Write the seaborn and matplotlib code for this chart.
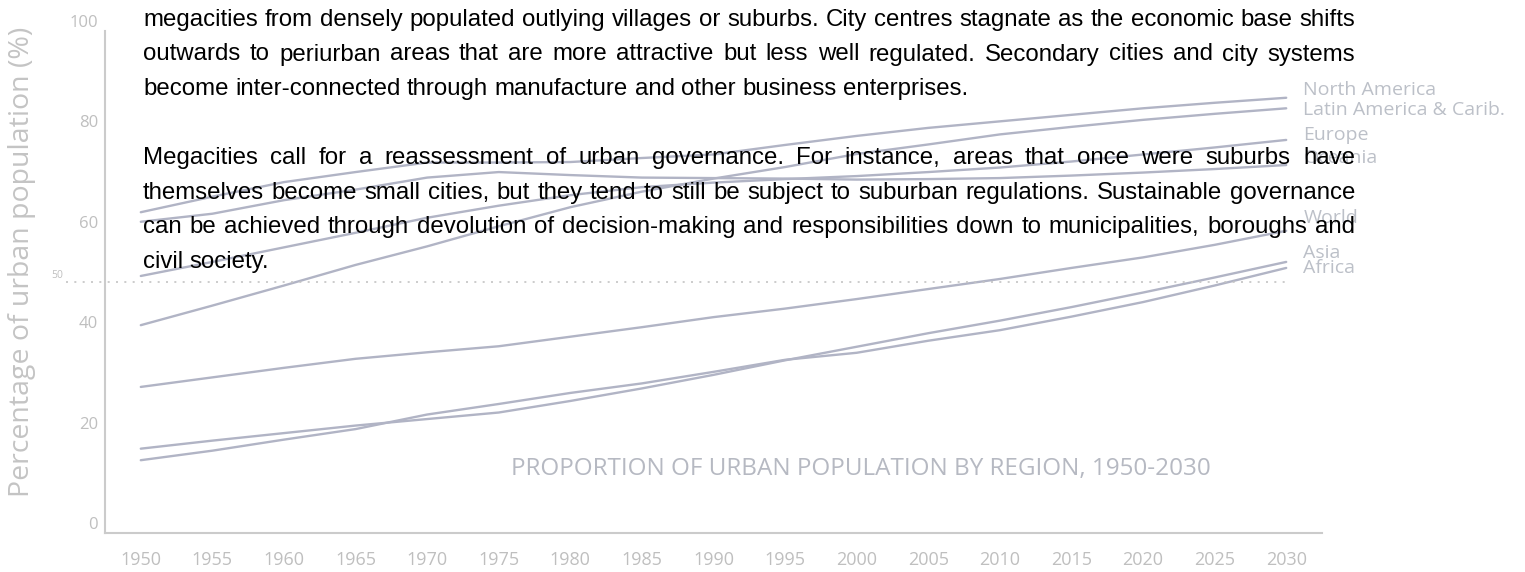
import matplotlib
matplotlib.use('Agg')
import matplotlib.pyplot as plt
import numpy as np
import pandas as pd
import seaborn as sns

# Urban population share by region (%), 1950-2030
years = list(range(1950, 2031, 5))
north_america = [63.9, 67.0, 69.9, 71.9, 73.8, 73.8, 73.9, 74.7, 75.4, 77.3, 79.1, 80.7, 82.0, 83.3, 84.6, 85.7, 86.7]
latin_america = [41.4, 45.3, 49.3, 53.4, 57.1, 61.1, 64.9, 68.0, 70.6, 72.9, 75.5, 77.4, 79.4, 80.9, 82.3, 83.5, 84.6]
europe        = [51.2, 54.0, 56.9, 59.8, 62.8, 65.2, 67.3, 68.9, 69.8, 70.5, 71.1, 71.9, 72.8, 74.0, 75.4, 76.8, 78.3]
oceania       = [62.0, 63.6, 66.3, 68.4, 70.8, 71.9, 71.3, 70.8, 70.7, 70.6, 70.4, 70.5, 70.7, 71.2, 71.8, 72.5, 73.3]
world         = [29.1, 31.0, 32.9, 34.7, 36.0, 37.2, 39.1, 41.0, 43.0, 44.7, 46.6, 48.6, 50.6, 52.8, 54.9, 57.4, 60.2]
asia          = [16.8, 18.4, 19.9, 21.4, 22.7, 24.0, 26.3, 28.8, 31.5, 34.4, 37.1, 39.8, 42.3, 45.0, 47.9, 50.9, 54.0]
africa        = [14.5, 16.4, 18.6, 20.7, 23.6, 25.7, 27.9, 29.8, 32.1, 34.5, 35.9, 38.3, 40.4, 43.1, 46.0, 49.3, 52.8]

regions = ['North America', 'Latin America & Carib.', 'Europe', 'Oceania', 'World', 'Asia', 'Africa']
series = [north_america, latin_america, europe, oceania, world, asia, africa]
label_y = [88.2, 84.3, 79.3, 74.7, 62.7, 55.8, 52.8]

y_ticks = [0, 20, 40, 60, 80, 100]
x_labels = years
halfway = 50

title = 'PROPORTION OF URBAN POPULATION BY REGION, 1950-2030'
y_title = 'Percentage of urban population (%)'
para_lines = [
    ('megacities from densely populated outlying villages or suburbs. City centres stagnate as the economic base shifts', True),
    ('outwards to periurban areas that are more attractive but less well regulated. Secondary cities and city systems', True),
    ('become inter-connected through manufacture and other business enterprises.', False),
    ('Megacities call for a reassessment of urban governance. For instance, areas that once were suburbs have', True),
    ('themselves become small cities, but they tend to still be subject to suburban regulations. Sustainable governance', True),
    ('can be achieved through devolution of decision-making and responsibilities down to municipalities, boroughs and', True),
    ('civil society.', False),
]

LINE = '#b1b4c5'
AXIS = '#cbcbcb'
TICK_TXT = '#bfbfbf'
LABEL_TXT = '#bcc0c8'

df = pd.DataFrame({
    'year': years * len(regions),
    'pct': [v for s in series for v in s],
    'region': [r for r in regions for _ in years],
})

sns.set_style('white')
plt.rcParams['font.family'] = ['Open Sans', 'DejaVu Sans']

W, H = 1525, 572
fig = plt.figure(figsize=(W / 100, H / 100), dpi=100)
ax = fig.add_axes([105 / W, (H - 533) / H, (1322 - 105) / W, (533 - 31) / H])

sns.lineplot(data=df, x='year', y='pct', units='region', estimator=None,
             color=LINE, lw=1.7, ax=ax, legend=False)

# dotted 50% reference line, running out past the y axis
ax.plot([1944.8, 2030], [halfway, halfway], color='#c4c4c4', lw=1.2,
        dashes=(1.2, 3.8), clip_on=False)
fig.text(57 / W, 1 - 276 / H, str(halfway), fontsize=7.5, color=TICK_TXT,
         ha='center', va='center')

ax.set_xlim(1947.5, 2032.5)
ax.set_ylim(0, 100)
for s in ['top', 'right']:
    ax.spines[s].set_visible(False)
for s in ['left', 'bottom']:
    ax.spines[s].set_color(AXIS)
    ax.spines[s].set_linewidth(1.5)

ax.set_yticks(y_ticks)
ax.set_yticklabels([str(t) for t in y_ticks])
ax.tick_params(axis='y', direction='in', length=21, width=1.1, color=AXIS,
               labelsize=12, labelcolor=TICK_TXT, pad=5)
for lab in ax.get_yticklabels():
    lab.set_va('bottom')

# year labels sit between the small tick marks
ax.set_xticks(x_labels)
ax.set_xticklabels([str(y) for y in x_labels])
ax.set_xticks([y + 2.5 for y in x_labels], minor=True)
ax.tick_params(axis='x', which='major', length=0, labelsize=13,
               labelcolor=TICK_TXT, pad=13)
ax.tick_params(axis='x', which='minor', direction='in', length=8, width=1.1,
               color=AXIS)

ax.set_xlabel('')
ax.set_ylabel(y_title, fontsize=20.5, color='#c4c4c4', va='center')
ax.yaxis.set_label_coords(-0.068, 0.54)

for name, yv in zip(regions, label_y):
    ax.text(2031.2, yv, name, fontsize=14, color=LABEL_TXT,
            va='center', ha='left', clip_on=False)

fig.text(861 / W, 1 - 469 / H, title, fontsize=17.5, color='#b6b9c2',
         ha='center', va='center')

# paragraph text over the chart, justified word by word
renderer = fig.canvas.get_renderer()
txt_kw = dict(fontsize=17.3, color='black', family=['Liberation Sans', 'DejaVu Sans'],
              va='baseline', ha='left')
p1 = fig.text(0, 0, 'a a', **txt_kw)
p2 = fig.text(0, 0, 'aa', **txt_kw)
space_w = p1.get_window_extent(renderer).width - p2.get_window_extent(renderer).width
p1.remove()
p2.remove()

baselines = [26, 60.5, 95, 164, 198.5, 233, 267.5]
x_left, x_right = 143, 1355
for (line, justify), base in zip(para_lines, baselines):
    words = line.split()
    objs = [fig.text(0, 0, w, **txt_kw) for w in words]
    widths = [o.get_window_extent(renderer).width for o in objs]
    gap = space_w
    if justify:
        gap = (x_right - x_left - sum(widths)) / (len(words) - 1)
    x = x_left
    for o, w in zip(objs, widths):
        o.set_position((x / W, 1 - base / H))
        x += w + gap

fig.savefig('out.png', dpi=100)
